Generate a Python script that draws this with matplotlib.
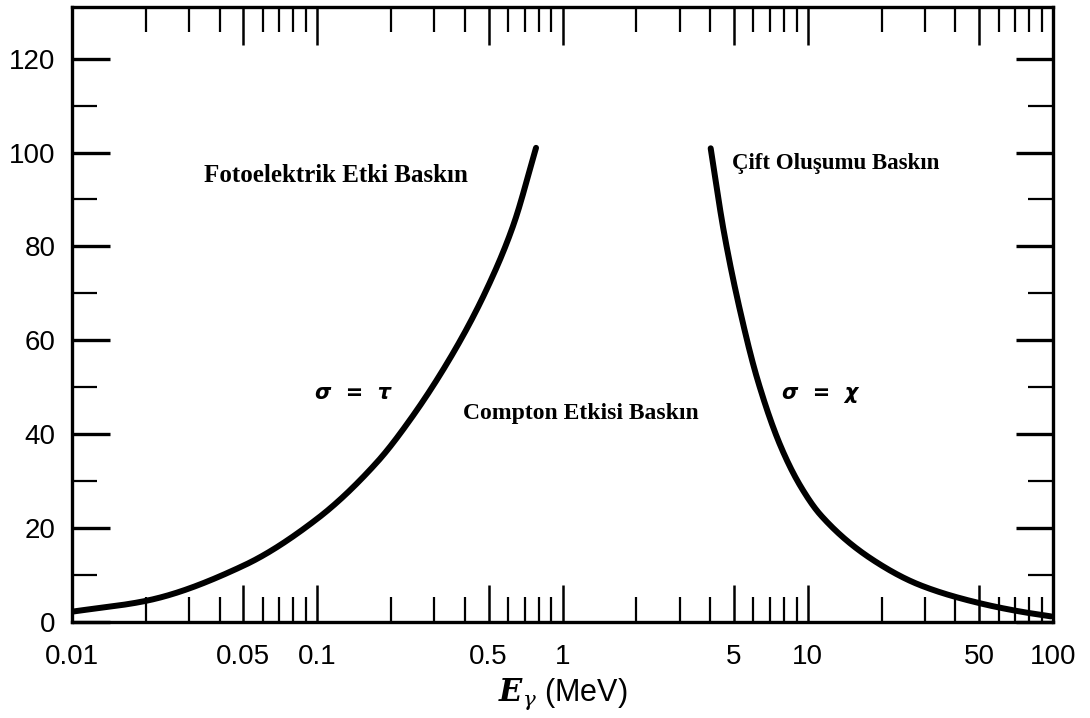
import matplotlib
matplotlib.use("Agg")
import matplotlib.pyplot as plt
import numpy as np
from matplotlib.ticker import FixedLocator, NullFormatter, FixedFormatter

# Photoelectric = Compton boundary (sigma = tau): photon energy (MeV) vs Z
e_left = [0.01, 0.02, 0.05, 0.1, 0.175, 0.24, 0.36, 0.49, 0.63, 0.78]
z_left = [2.2, 4.5, 12.0, 22.0, 34.0, 43.2, 57.5, 70.8, 84.5, 101.0]

# Compton = pair production boundary (sigma = kappa)
e_right = [4.02, 4.54, 5.33, 6.25, 7.76, 9.35, 11.3, 18.1, 28.9, 49.4, 74.0, 98.0]
z_right = [100.9, 83.4, 65.7, 51.5, 37.4, 28.9, 22.75, 13.5, 7.8, 4.1, 2.2, 1.2]

x_major = [0.01, 0.05, 0.1, 0.5, 1, 5, 10, 50, 100]
x_major_labels = ["0.01", "0.05", "0.1", "0.5", "1", "5", "10", "50", "100"]
x_minor = [0.02, 0.03, 0.04, 0.06, 0.07, 0.08, 0.09,
           0.2, 0.3, 0.4, 0.6, 0.7, 0.8, 0.9,
           2, 3, 4, 6, 7, 8, 9,
           20, 30, 40, 60, 70, 80, 90]
y_major = [0, 20, 40, 60, 80, 100, 120]
y_minor = [10, 30, 50, 70, 90, 110]

plt.rcParams['mathtext.fontset'] = 'dejavuserif'


def pchip(x, y, xn):
    x = np.asarray(x, float); y = np.asarray(y, float)
    h = np.diff(x); d = np.diff(y) / h
    m = np.zeros_like(y)
    for k in range(1, len(x) - 1):
        if d[k-1] * d[k] > 0:
            w1 = 2*h[k] + h[k-1]; w2 = h[k] + 2*h[k-1]
            m[k] = (w1 + w2) / (w1/d[k-1] + w2/d[k])
    m[0] = d[0]; m[-1] = d[-1]
    idx = np.clip(np.searchsorted(x, xn) - 1, 0, len(h) - 1)
    t = (xn - x[idx]) / h[idx]
    h00 = 2*t**3 - 3*t**2 + 1; h10 = t**3 - 2*t**2 + t
    h01 = -2*t**3 + 3*t**2; h11 = t**3 - t**2
    return h00*y[idx] + h10*h[idx]*m[idx] + h01*y[idx+1] + h11*h[idx]*m[idx+1]


def curve(es, zs):
    lx = np.log10(es)
    t = np.linspace(lx[0], lx[-1], 600)
    return 10**t, pchip(lx, zs, t)


fig = plt.figure(figsize=(10.9, 7.18), dpi=100)
ax = fig.add_axes([72/1090, 96/718, (1053-72)/1090, (622-7)/718])

xl, yl = curve(e_left, z_left)
xr, yr = curve(e_right, z_right)
ax.plot(xl, yl, color='black', lw=4.3, solid_capstyle='round')
ax.plot(xr, yr, color='black', lw=4.3, solid_capstyle='round')

ax.set_xscale('log')
ax.set_xlim(0.01, 100)
ax.set_ylim(0, 131)

ax.xaxis.set_major_locator(FixedLocator(x_major))
ax.xaxis.set_major_formatter(FixedFormatter(x_major_labels))
ax.xaxis.set_minor_locator(FixedLocator(x_minor))
ax.xaxis.set_minor_formatter(NullFormatter())
ax.yaxis.set_major_locator(FixedLocator(y_major))
ax.yaxis.set_minor_locator(FixedLocator(y_minor))

for s in ax.spines.values():
    s.set_linewidth(2.4)

ax.tick_params(which='both', direction='in', top=True, right=True, color='black')
ax.tick_params(which='major', length=27, width=1.8, pad=12, labelsize=20)
ax.tick_params(axis='y', which='major', width=2.4)
ax.tick_params(which='minor', length=18, width=1.6)
ax.tick_params(axis='x', which='major', pad=16)
for lab in ax.get_xticklabels() + ax.get_yticklabels():
    lab.set_fontfamily('Liberation Sans')

ax.set_xlabel(r'$\mathbfit{E}_{\gamma}$ (MeV)', fontsize=22, family='Liberation Sans', labelpad=5)

ax.text((336-72)/981, (622-175)/615, 'Fotoelektrik Etki Baskın', transform=ax.transAxes,
        ha='center', va='center', family='Liberation Serif', fontweight='bold', fontsize=18)
fig.text(836/1090, 1-163/718, 'Çift Oluşumu Baskın', ha='center', va='center',
         family='Liberation Serif', fontweight='bold', fontsize=16.5)
fig.text(581/1090, 1-413/718, 'Compton Etkisi Baskın', ha='center', va='center',
         family='Liberation Serif', fontweight='bold', fontsize=17)

greek = dict(family='DejaVu Sans', fontweight='bold', style='italic', fontsize=15, color='black')
fig.text(353/1090, 1-393/718, 'σ  =  τ', ha='center', va='center', **greek)
fig.text(820/1090, 1-393/718, 'σ  =  χ', ha='center', va='center', **greek)

fig.savefig('out.png', dpi=100)
